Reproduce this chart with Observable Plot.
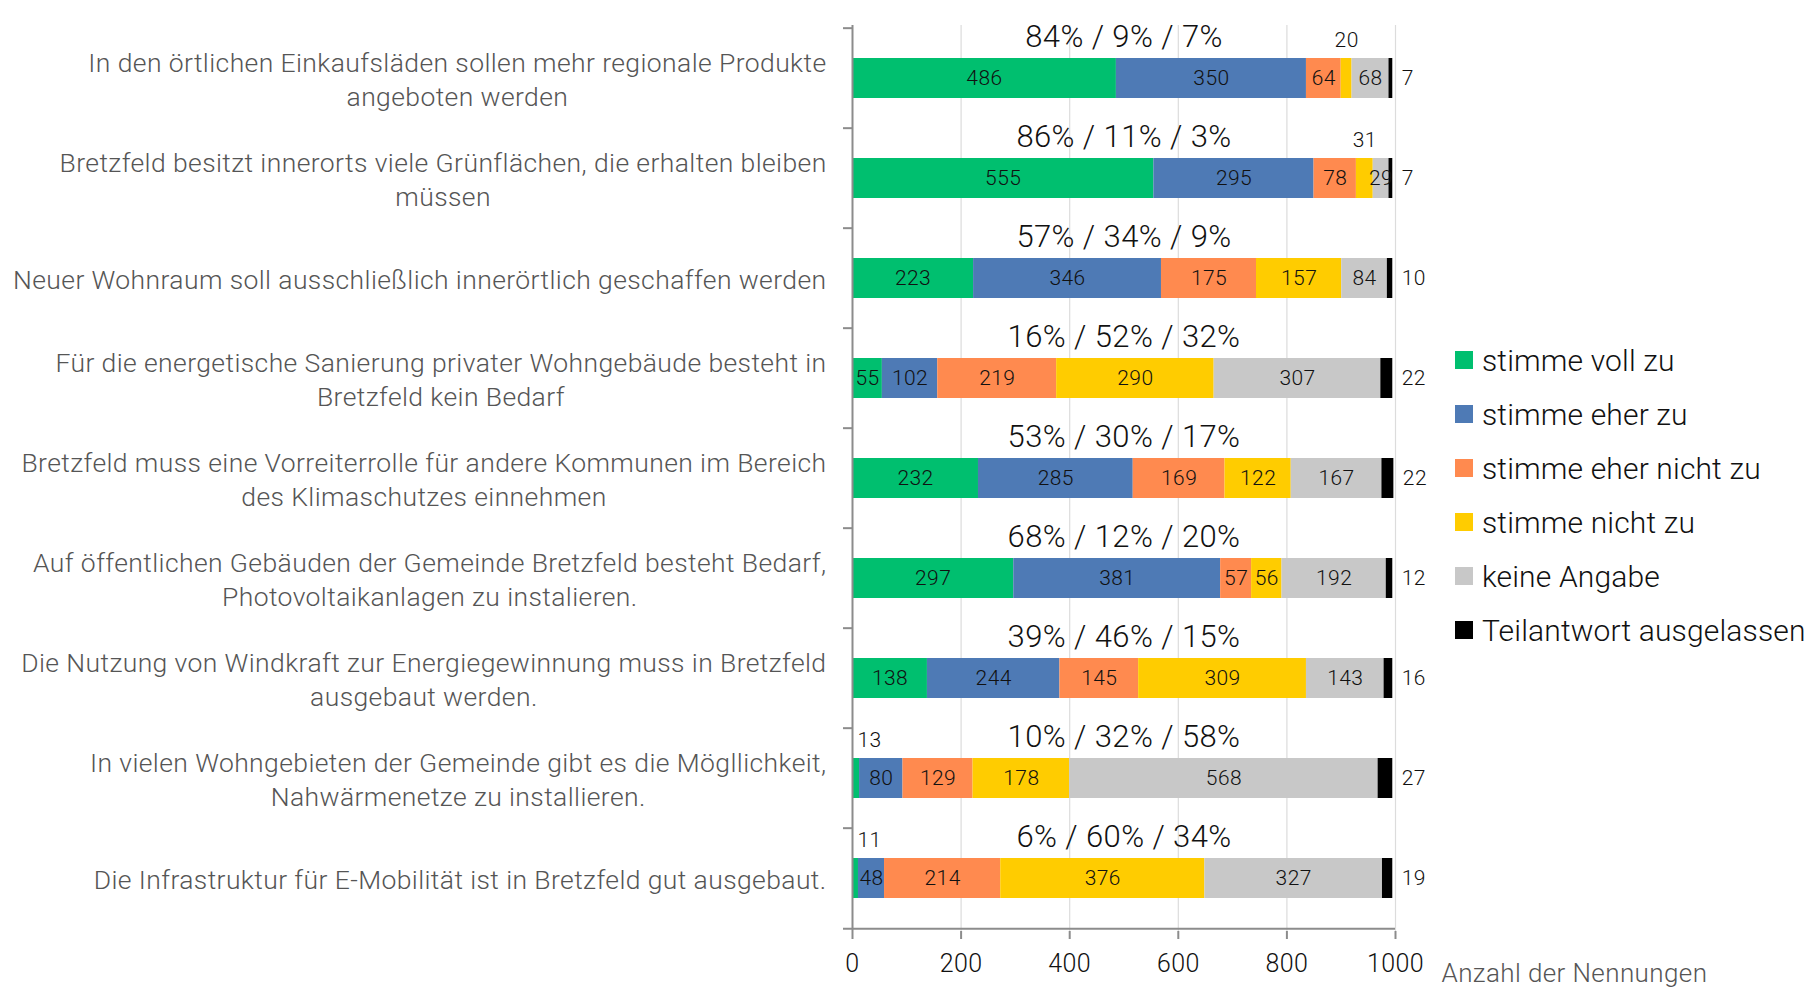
<!DOCTYPE html>
<html>
<head>
<meta charset="utf-8">
<script src="https://cdn.jsdelivr.net/npm/d3@7"></script>
<script src="https://cdn.jsdelivr.net/npm/@observablehq/plot@0.6"></script>
<style>
  body { margin: 0; background: #fff; }
  #wrap { position: relative; width: 1817px; height: 989px; overflow: hidden; }
  #wrap svg { position: absolute; left: 0; top: 0; letter-spacing: 0.4px; }
  #legend { position: absolute; left: 1455px; top: 333.4px; font-family: Roboto, "Liberation Sans", sans-serif; font-weight: 300; font-size: 30px; color: #111; letter-spacing: 0.15px; }
  #legend .item { display: flex; align-items: center; height: 54px; white-space: nowrap; }
  #legend .sw { width: 18px; height: 18px; margin-right: 9px; flex: none; }
</style>
</head>
<body>
<div id="wrap"></div>
<script>
// ---------- data ----------
const statements = [
  "In den örtlichen Einkaufsläden sollen mehr regionale Produkte\nangeboten werden",
  "Bretzfeld besitzt innerorts viele Grünflächen, die erhalten bleiben\nmüssen",
  "Neuer Wohnraum soll ausschließlich innerörtlich geschaffen werden",
  "Für die energetische Sanierung privater Wohngebäude besteht in\nBretzfeld kein Bedarf",
  "Bretzfeld muss eine Vorreiterrolle für andere Kommunen im Bereich\ndes Klimaschutzes einnehmen",
  "Auf öffentlichen Gebäuden der Gemeinde Bretzfeld besteht Bedarf,\nPhotovoltaikanlagen zu instalieren.",
  "Die Nutzung von Windkraft zur Energiegewinnung muss in Bretzfeld\nausgebaut werden.",
  "In vielen Wohngebieten der Gemeinde gibt es die Mögllichkeit,\nNahwärmenetze zu installieren.",
  "Die Infrastruktur für E-Mobilität ist in Bretzfeld gut ausgebaut."
];
const responses = ["stimme voll zu", "stimme eher zu", "stimme eher nicht zu", "stimme nicht zu", "keine Angabe", "Teilantwort ausgelassen"];
const colors = ["#00BF6F", "#4E7AB5", "#FF8A4F", "#FFCC00", "#C8C8C8", "#000000"];

const stimmeVollZu      = [486, 555, 223,  55, 232, 297, 138,  13,  11];
const stimmeEherZu      = [350, 295, 346, 102, 285, 381, 244,  80,  48];
const stimmeEherNichtZu = [ 64,  78, 175, 219, 169,  57, 145, 129, 214];
const stimmeNichtZu     = [ 20,  31, 157, 290, 122,  56, 309, 178, 376];
const keineAngabe       = [ 68,  29,  84, 307, 167, 192, 143, 568, 327];
const ausgelassen       = [  7,   7,  10,  22,  22,  12,  16,  27,  19];

const shares = ["84% / 9% / 7%", "86% / 11% / 3%", "57% / 34% / 9%", "16% / 52% / 32%", "53% / 30% / 17%",
                "68% / 12% / 20%", "39% / 46% / 15%", "10% / 32% / 58%", "6% / 60% / 34%"];
const xTicks = [0, 200, 400, 600, 800, 1000];
const xLabel = "Anzahl der Nennungen";
// labels shown above the bar instead of inside (statement index, response)
const labelsAbove = [[0, "stimme nicht zu"], [1, "stimme nicht zu"], [7, "stimme voll zu"], [8, "stimme voll zu"]];

// ---------- table ----------
const series = [stimmeVollZu, stimmeEherZu, stimmeEherNichtZu, stimmeNichtZu, keineAngabe, ausgelassen];
const table = [];
statements.forEach((s, i) => {
  let acc = 0;
  responses.forEach((r, j) => {
    const v = series[j][i];
    table.push({statement: s, idx: i, response: r, value: v, x1: acc, x2: acc + v});
    acc += v;
  });
});
const isAbove = d => labelsAbove.some(([i, r]) => i === d.idx && r === d.response);
const lastResp = responses[responses.length - 1];
const insideRows = table.filter(d => d.response !== lastResp && !isAbove(d));
const aboveMid = table.filter(d => isAbove(d) && d.x1 > 0);
const aboveStart = table.filter(d => isAbove(d) && d.x1 === 0);
const endRows = table.filter(d => d.response === lastResp);

// ---------- layout ----------
const FONT = 'Roboto, "Liberation Sans", sans-serif';
const W = 1817, H = 989, mL = 852, mR = 422, mT = 25, mB = 58;
const step = (H - mT - mB) / statements.length;
const catFont = 26.5;
const spacing = 0.4;

const ctx = document.createElement("canvas").getContext("2d");
ctx.font = `300 ${catFont}px ${FONT}`;
const lineWidth = l => ctx.measureText(l).width + spacing * l.length;
const maxLineWidth = s => Math.max(...s.split("\n").map(lineWidth));

const catMarks = statements.map(s =>
  Plot.text([s], {
    y: d => d, text: d => d, frameAnchor: "left", textAnchor: "middle",
    dx: -(26 + maxLineWidth(s) / 2), fontSize: catFont, fontWeight: 300, lineHeight: 33.6 / catFont, fill: "#555"
  })
);

const chart = Plot.plot({
  width: W, height: H,
  marginLeft: mL, marginRight: mR, marginTop: mT, marginBottom: mB,
  style: {fontFamily: FONT, background: "transparent", overflow: "visible"},
  x: {domain: [0, 1000], ticks: xTicks, label: null},
  y: {domain: statements, paddingInner: 0.6, paddingOuter: 0.3, axis: null},
  color: {domain: responses, range: colors},
  marks: [
    Plot.gridX(xTicks.filter(d => d > 0), {stroke: "#dcdcdc", strokeOpacity: 1, strokeWidth: 1.2}),
    Plot.barX(table, {y: "statement", x1: "x1", x2: "x2", fill: "response"}),
    Plot.text(insideRows, {y: "statement", x: d => (d.x1 + d.x2) / 2, text: "value", fontSize: 21, fontWeight: 300, fill: "#111"}),
    Plot.text(aboveMid, {y: "statement", x: d => (d.x1 + d.x2) / 2, text: "value", dy: -38, fontSize: 21, fontWeight: 300, fill: "#111"}),
    Plot.text(aboveStart, {y: "statement", x: "x1", text: "value", textAnchor: "start", dx: 5, dy: -38, fontSize: 21, fontWeight: 300, fill: "#111"}),
    Plot.text(endRows, {y: "statement", x: "x2", text: "value", textAnchor: "start", dx: 9, fontSize: 21, fontWeight: 300, fill: "#111"}),
    Plot.text(statements, {y: d => d, text: (d, i) => shares[i], dy: -41, fontSize: 31, fontWeight: 300, fill: "#111"}),
    ...catMarks,
    // y axis line and category boundary ticks
    Plot.ruleX([0], {stroke: "#8c8c8c", strokeWidth: 2}),
    Plot.ruleY(statements, {y: d => d, x1: 0, x2: 0, insetLeft: -9, dy: -step / 2, stroke: "#8c8c8c", strokeWidth: 2}),
    Plot.ruleY([statements[statements.length - 1]], {y: d => d, x1: 0, x2: 1000, insetLeft: -9, dy: step / 2, stroke: "#8c8c8c", strokeWidth: 2}),
    Plot.axisX({ticks: xTicks, tickFormat: d3.format("d"), tickSize: 8, tickPadding: 15, fontSize: 25, fontWeight: 300, stroke: "#8c8c8c", strokeWidth: 2, fill: "#111", label: null}),
    Plot.text([xLabel], {frameAnchor: "bottom-right", textAnchor: "start", dx: 46, dy: 50, fontSize: 26, fontWeight: 300, fill: "#555"})
  ]
});

const wrap = document.getElementById("wrap");
wrap.appendChild(chart);

// legend
const legend = document.createElement("div");
legend.id = "legend";
responses.forEach((r, j) => {
  const item = document.createElement("div");
  item.className = "item";
  const sw = document.createElement("span");
  sw.className = "sw";
  sw.style.background = colors[j];
  const t = document.createElement("span");
  t.textContent = r;
  item.appendChild(sw);
  item.appendChild(t);
  legend.appendChild(item);
});
wrap.appendChild(legend);
</script>
</body>
</html>
